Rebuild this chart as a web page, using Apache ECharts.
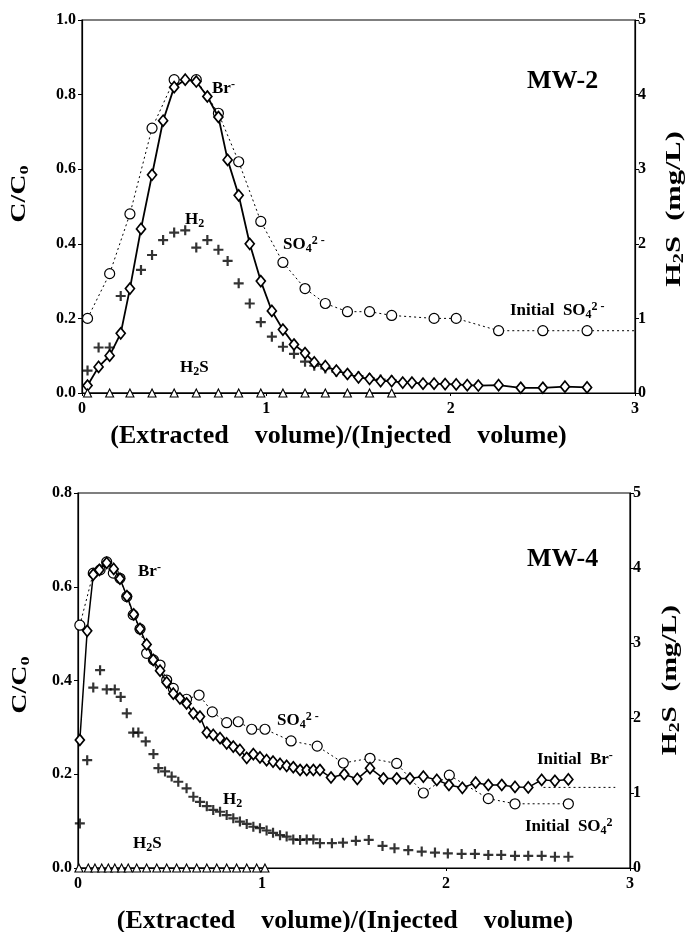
<!DOCTYPE html>
<html><head><meta charset="utf-8">
<script src="https://cdn.jsdelivr.net/npm/echarts@6/dist/echarts.min.js"></script>
<style>html,body{margin:0;padding:0;background:#fff}#c{width:690px;height:932px}</style>
</head><body><div id="c"></div>
<script>
// ---------- DATA (x = extracted/injected volume) ----------
const xTickLabels = ['0', '1', '2', '3'];
const leftTicksTop = ['0.0', '0.2', '0.4', '0.6', '0.8', '1.0'];
const leftTicksBottom = ['0.0', '0.2', '0.4', '0.6', '0.8'];
const rightTicks = ['0', '1', '2', '3', '4', '5'];

// MW-2
const mw2Br = [[0.03,0.02],[0.09,0.07],[0.15,0.10],[0.21,0.16],[0.26,0.28],[0.32,0.44],[0.38,0.585],[0.44,0.73],[0.50,0.82],[0.56,0.84],[0.62,0.835],[0.68,0.795],[0.74,0.74],[0.79,0.625],[0.85,0.53],[0.91,0.40],[0.97,0.30],[1.03,0.22],[1.09,0.17],[1.15,0.13],[1.21,0.107],[1.26,0.082],[1.32,0.072],[1.38,0.06],[1.44,0.051],[1.50,0.042],[1.56,0.038],[1.62,0.032],[1.68,0.032],[1.74,0.028],[1.79,0.028],[1.85,0.025],[1.91,0.025],[1.97,0.024],[2.03,0.023],[2.09,0.021],[2.15,0.02],[2.26,0.021],[2.38,0.014],[2.50,0.014],[2.62,0.017],[2.74,0.015]];
const mw2SO4 = [[0.03,0.20],[0.15,0.32],[0.26,0.48],[0.38,0.71],[0.50,0.84],[0.62,0.84],[0.74,0.75],[0.85,0.62],[0.97,0.46],[1.09,0.35],[1.21,0.28],[1.32,0.24],[1.44,0.218],[1.56,0.218],[1.68,0.208],[1.91,0.20],[2.03,0.20],[2.26,0.167],[2.50,0.167],[2.74,0.167]];
const mw2H2 = [[0.03,0.06],[0.09,0.122],[0.15,0.122],[0.21,0.26],[0.32,0.33],[0.38,0.37],[0.44,0.41],[0.50,0.43],[0.56,0.436],[0.62,0.39],[0.68,0.41],[0.74,0.384],[0.79,0.354],[0.85,0.294],[0.91,0.24],[0.97,0.19],[1.03,0.151],[1.09,0.124],[1.15,0.105],[1.21,0.084],[1.26,0.073],[1.32,0.066],[1.38,0.057],[1.44,0.05],[1.50,0.045],[1.56,0.04],[1.62,0.036],[1.68,0.034]];
const mw2H2S = [[0.03,0],[0.15,0],[0.26,0],[0.38,0],[0.50,0],[0.62,0],[0.74,0],[0.85,0],[0.97,0],[1.09,0],[1.21,0],[1.32,0],[1.44,0],[1.56,0],[1.68,0]];
const mw2InitialSO4 = [[2.74,0.167],[3.0,0.167]];

// MW-4
const mw4Br = [[0.01,0.273],[0.05,0.506],[0.083,0.626],[0.116,0.636],[0.156,0.651],[0.194,0.638],[0.228,0.617],[0.266,0.58],[0.303,0.541],[0.337,0.51],[0.373,0.477],[0.409,0.444],[0.446,0.421],[0.482,0.396],[0.518,0.372],[0.554,0.362],[0.59,0.351],[0.627,0.33],[0.663,0.323],[0.70,0.289],[0.735,0.284],[0.772,0.277],[0.808,0.266],[0.844,0.259],[0.88,0.252],[0.917,0.235],[0.953,0.243],[0.989,0.236],[1.025,0.23],[1.06,0.227],[1.098,0.222],[1.134,0.218],[1.17,0.215],[1.207,0.209],[1.243,0.209],[1.279,0.209],[1.315,0.209],[1.375,0.193],[1.447,0.20],[1.518,0.19],[1.587,0.213],[1.66,0.191],[1.732,0.191],[1.804,0.191],[1.877,0.195],[1.95,0.188],[2.016,0.177],[2.089,0.171],[2.161,0.182],[2.23,0.177],[2.303,0.177],[2.375,0.173],[2.447,0.172],[2.52,0.188],[2.592,0.186],[2.665,0.189]];
const mw4SO4 = [[0.01,0.518],[0.083,0.629],[0.12,0.636],[0.156,0.653],[0.192,0.629],[0.228,0.618],[0.265,0.579],[0.30,0.54],[0.337,0.51],[0.373,0.458],[0.41,0.444],[0.446,0.433],[0.482,0.401],[0.518,0.383],[0.59,0.36],[0.658,0.369],[0.73,0.333],[0.808,0.31],[0.871,0.312],[0.944,0.296],[1.016,0.296],[1.158,0.271],[1.30,0.26],[1.442,0.224],[1.587,0.234],[1.732,0.223],[1.877,0.16],[2.018,0.198],[2.23,0.148],[2.375,0.137],[2.665,0.137]];
const mw4H2 = [[0.01,0.095],[0.05,0.23],[0.083,0.385],[0.12,0.422],[0.156,0.381],[0.20,0.381],[0.232,0.365],[0.265,0.33],[0.30,0.289],[0.328,0.289],[0.368,0.27],[0.41,0.243],[0.437,0.213],[0.473,0.206],[0.509,0.195],[0.545,0.184],[0.59,0.17],[0.627,0.152],[0.663,0.141],[0.70,0.132],[0.735,0.124],[0.772,0.12],[0.808,0.113],[0.844,0.106],[0.88,0.099],[0.917,0.094],[0.953,0.088],[0.989,0.085],[1.025,0.08],[1.06,0.075],[1.098,0.07],[1.134,0.067],[1.17,0.061],[1.207,0.06],[1.243,0.061],[1.279,0.061],[1.315,0.053],[1.38,0.053],[1.44,0.054],[1.51,0.058],[1.58,0.06],[1.655,0.047],[1.72,0.042],[1.795,0.038],[1.868,0.035],[1.94,0.033],[2.01,0.031],[2.085,0.03],[2.157,0.03],[2.23,0.028],[2.30,0.028],[2.375,0.026],[2.447,0.026],[2.52,0.026],[2.592,0.024],[2.665,0.024]];
const mw4H2S = [[0.005,0],[0.056,0],[0.092,0],[0.129,0],[0.165,0],[0.20,0],[0.237,0],[0.273,0],[0.319,0],[0.373,0],[0.428,0],[0.482,0],[0.536,0],[0.59,0],[0.645,0],[0.70,0],[0.754,0],[0.808,0],[0.862,0],[0.917,0],[0.971,0],[1.016,0]];
const mw4InitialBr = [[2.53,0.172],[2.92,0.172]];

// ---------- STYLE ----------
const FF = '"Liberation Serif","DejaVu Serif",serif';
const PLUS = 'path://M3.9,0H6.1V3.9H10V6.1H6.1V10H3.9V6.1H0V3.9H3.9Z';
const rich = {
  b: { fontFamily: FF, fontWeight: 'bold', fontSize: 17 },
  sub: { fontFamily: FF, fontWeight: 'bold', fontSize: 12, padding: [8, 0, 0, 0] },
  sup: { fontFamily: FF, fontWeight: 'bold', fontSize: 12, padding: [0, 0, 8, 0] }
};
const axisLabel = { fontFamily: FF, fontWeight: 'bold', fontSize: 16, color: '#000' };
const axisLine = { show: true, onZero: false, lineStyle: { color: '#000', width: 1.2 } };

function xAx(grid, gap, shift) {
  return { type: 'value', gridIndex: grid, min: 0, max: 3, interval: 1,
    axisLine, axisTick: { show: true, length: 3, lineStyle: { color: '#000' } },
    axisLabel: Object.assign({ margin: 8, formatter: v => xTickLabels[Math.round(v)] }, axisLabel),
    splitLine: { show: false },
    name: '(Extracted    volume)/(Injected    volume)', nameLocation: 'middle', nameGap: gap,
    nameTextStyle: { fontFamily: FF, fontWeight: 'bold', fontSize: 26, color: '#000', padding: [0, shift, 0, 0] } };
}
function yLeft(grid, max, ticks) {
  return { type: 'value', gridIndex: grid, min: 0, max: max, interval: 0.2, position: 'left',
    axisLine, axisTick: { show: true, length: 4, lineStyle: { color: '#000' } },
    axisLabel: Object.assign({ margin: 6, formatter: v => ticks[Math.round(v / 0.2)] }, axisLabel),
    splitLine: { show: false } };
}
function yRight(grid) {
  return { type: 'value', gridIndex: grid, min: 0, max: 5, interval: 1, position: 'right',
    axisLine, axisTick: { show: true, length: 4, lineStyle: { color: '#000' } },
    axisLabel: Object.assign({ margin: 3, formatter: v => rightTicks[Math.round(v)] }, axisLabel),
    splitLine: { show: false } };
}
function brSeries(data, x, y, w) {
  return { type: 'line', xAxisIndex: x, yAxisIndex: y, data, symbol: 'diamond', symbolSize: [9, 11],
    lineStyle: { color: '#000', width: w }, itemStyle: { color: '#fff', borderColor: '#000', borderWidth: 1.7 }, z: 5 };
}
function so4Series(data, x, y) {
  return { type: 'line', xAxisIndex: x, yAxisIndex: y, data, symbol: 'circle', symbolSize: 10,
    lineStyle: { color: '#000', width: 1, type: [2, 3] }, itemStyle: { color: '#fff', borderColor: '#000', borderWidth: 1.2 }, z: 4 };
}
function h2Series(data, x, y) {
  return { type: 'scatter', xAxisIndex: x, yAxisIndex: y, data, symbol: PLUS, symbolSize: 10,
    itemStyle: { color: '#000' }, z: 3 };
}
function h2sSeries(data, x, y) {
  return { type: 'line', xAxisIndex: x, yAxisIndex: y, data, symbol: 'triangle', symbolSize: 8,
    lineStyle: { color: '#000', width: 1 }, itemStyle: { color: '#fff', borderColor: '#000', borderWidth: 1.1 }, z: 6 };
}
function dottedRef(data, x, y) {
  return { type: 'line', xAxisIndex: x, yAxisIndex: y, data, symbol: 'none',
    lineStyle: { color: '#000', width: 1, type: [2, 3] }, z: 2 };
}
function label(left, top, text, size) {
  return { type: 'text', left, top, z: 50, style: { text, fill: '#000',
    fontFamily: FF, fontWeight: 'bold', fontSize: size || 17, rich } };
}
function vTitle(x, y, text, size, subSize, stretch) {
  return { type: 'text', x, y, rotation: Math.PI / 2, scaleX: stretch, z: 50,
    style: { text, fill: '#000', align: 'center', verticalAlign: 'middle',
      rich: {
        b: { fontFamily: FF, fontWeight: 'bold', fontSize: size },
        sub: { fontFamily: FF, fontWeight: 'bold', fontSize: subSize, padding: [Math.round(size * 0.45), 0, 0, 0] }
      } } };
}

const chart = echarts.init(document.getElementById('c'), null, { renderer: 'canvas' });
chart.setOption({
  backgroundColor: '#fff',
  animation: false,
  grid: [
    { left: 82, width: 553, top: 20, height: 373, show: true, borderColor: '#000', borderWidth: 1.2, outerBoundsMode: 'none', containLabel: false },
    { left: 78, width: 552, top: 493, height: 375, show: true, borderColor: '#000', borderWidth: 1.2, outerBoundsMode: 'none', containLabel: false }
  ],
  xAxis: [xAx(0, 30, 40), xAx(1, 40, 18)],
  yAxis: [yLeft(0, 1.0, leftTicksTop), yRight(0), yLeft(1, 0.8, leftTicksBottom), yRight(1)],
  series: [
    dottedRef(mw2InitialSO4, 0, 0),
    so4Series(mw2SO4, 0, 0),
    h2Series(mw2H2, 0, 0),
    brSeries(mw2Br, 0, 0, 1.8),
    h2sSeries(mw2H2S, 0, 1),
    dottedRef(mw4InitialBr, 1, 2),
    so4Series(mw4SO4, 1, 2),
    h2Series(mw4H2, 1, 2),
    brSeries(mw4Br, 1, 2, 1.5),
    h2sSeries(mw4H2S, 1, 3)
  ],
  graphic: [
    vTitle(20, 194, '{b|C/C}{sub|0}', 20, 13, 1.4),
    vTitle(675, 209, '{b|H}{sub|2}{b|S  (mg/L)}', 21, 14, 1.45),
    vTitle(21, 685, '{b|C/C}{sub|0}', 20, 13, 1.4),
    vTitle(671, 680, '{b|H}{sub|2}{b|S  (mg/L)}', 21, 14, 1.4),
    label(527, 68, 'MW-2', 26),
    label(212, 79, '{b|Br}{sup|-}'),
    label(185, 211, '{b|H}{sub|2}'),
    label(283, 235, '{b|SO}{sub|4}{sup|2 -}'),
    label(180, 359, '{b|H}{sub|2}{b|S}'),
    label(510, 301, '{b|Initial  SO}{sub|4}{sup|2 -}'),
    label(527, 546, 'MW-4', 26),
    label(138, 562, '{b|Br}{sup|-}'),
    label(277, 711, '{b|SO}{sub|4}{sup|2 -}'),
    label(223, 791, '{b|H}{sub|2}'),
    label(133, 835, '{b|H}{sub|2}{b|S}'),
    label(537, 750, '{b|Initial  Br}{sup|-}'),
    label(525, 817, '{b|Initial  SO}{sub|4}{sup|2}')
  ]
});
</script></body></html>
